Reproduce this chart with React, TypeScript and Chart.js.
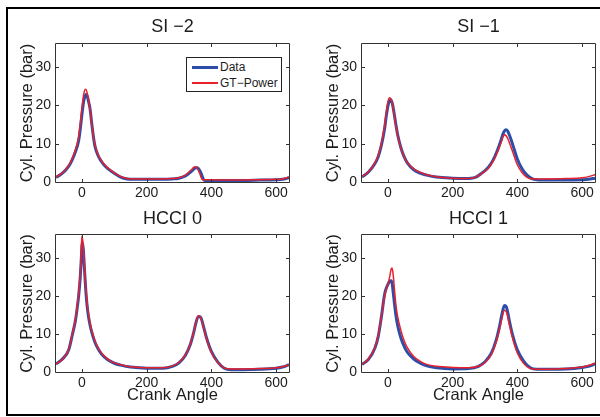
import { useEffect, useRef } from "react";
import { Chart, registerables } from "chart.js";

Chart.register(...registerables);

// Axis settings shared by all four panels
const xTicks = [0, 200, 400, 600];
const yTicks = [0, 10, 20, 30];
const xMin = -80;
const xMax = 640;
const yMin = 0;
const yMax = 36;

// SI -2
const si2Angle = [-80, -60, -40, -30, -20, -10, -5, 0, 5, 10, 13, 17, 20, 25, 30, 35, 40, 50, 60, 70, 80, 100, 120, 140, 160, 200, 240, 280, 300, 320, 330, 340, 345, 350, 355, 360, 365, 370, 375, 380, 400, 450, 500, 550, 600, 620, 640];
const si2Data = [1.2, 2.3, 4.2, 5.8, 7.9, 10.8, 13.8, 17.5, 20.8, 22.5, 22.8, 22.3, 21.2, 19.2, 15.6, 12.2, 9.5, 6.9, 5.4, 4.3, 3.5, 2.3, 1.3, 0.8, 0.7, 0.7, 0.7, 0.8, 1.0, 1.6, 2.2, 2.9, 3.3, 3.6, 3.7, 3.5, 2.9, 1.9, 0.8, 0.4, 0.4, 0.4, 0.4, 0.5, 0.6, 0.7, 1.1];
const si2Gt = [1.3, 2.4, 4.4, 6.1, 8.4, 11.8, 15.2, 19.2, 22.6, 24.2, 24.1, 23.0, 21.8, 19.0, 15.5, 12.2, 9.8, 7.1, 5.6, 4.5, 3.7, 2.4, 1.4, 0.9, 0.8, 0.8, 0.8, 0.9, 1.1, 1.8, 2.5, 3.3, 3.8, 4.0, 3.8, 3.0, 2.0, 0.9, 0.6, 0.6, 0.6, 0.5, 0.5, 0.6, 0.7, 0.8, 1.3];

// SI -1
const si1Angle = [-80, -60, -40, -30, -20, -10, -5, 0, 5, 10, 15, 20, 25, 30, 40, 50, 60, 80, 100, 120, 150, 200, 240, 270, 290, 310, 325, 340, 350, 355, 360, 365, 370, 380, 390, 400, 415, 430, 445, 460, 500, 550, 600, 620, 640];
const si1Data = [1.3, 2.6, 4.8, 6.6, 9.6, 14.0, 17.2, 19.8, 21.2, 21.4, 20.0, 17.5, 14.8, 12.4, 9.0, 6.6, 5.0, 3.2, 2.3, 1.8, 1.3, 1.0, 0.9, 1.2, 2.3, 3.8, 5.7, 8.6, 11.0, 12.4, 13.3, 13.6, 13.3, 11.2, 8.6, 6.0, 3.4, 1.8, 0.9, 0.6, 0.5, 0.5, 0.6, 0.7, 1.0];
const si1Gt = [1.4, 2.7, 5.0, 6.9, 10.1, 14.8, 18.2, 20.9, 22.0, 21.6, 19.8, 17.2, 14.5, 12.2, 8.9, 6.6, 5.1, 3.4, 2.5, 1.9, 1.4, 1.0, 0.9, 1.2, 2.2, 3.6, 5.4, 8.1, 10.4, 11.6, 12.3, 12.1, 11.4, 9.2, 6.8, 4.5, 2.4, 1.2, 0.8, 0.8, 0.8, 0.9, 1.1, 1.4, 1.9];

// HCCI 0
const hcci0Angle = [-80, -60, -40, -30, -20, -15, -10, -5, -2, 0, 2, 5, 8, 12, 16, 20, 25, 30, 40, 50, 60, 80, 100, 120, 150, 200, 250, 280, 300, 320, 335, 345, 352, 360, 367, 375, 385, 400, 420, 440, 460, 500, 550, 600, 620, 640];
const hcci0Data = [2.1, 3.4, 6.0, 9.6, 13.5, 16.5, 20.0, 25.0, 29.5, 33.0, 34.0, 31.5, 27.0, 21.5, 17.5, 14.8, 12.4, 10.6, 7.9, 6.1, 4.8, 3.2, 2.3, 1.8, 1.3, 1.0, 1.0, 1.5, 2.4, 4.4, 7.2, 10.2, 12.8, 14.6, 14.4, 12.2, 9.0, 5.4, 2.6, 1.0, 0.6, 0.6, 0.7, 1.0, 1.3, 1.9];
const hcci0Gt = [2.1, 3.3, 6.1, 9.8, 13.8, 16.9, 20.6, 26.0, 31.5, 35.7, 35.0, 32.0, 27.5, 22.3, 18.3, 15.5, 13.0, 11.1, 8.3, 6.4, 5.0, 3.4, 2.4, 1.9, 1.4, 1.1, 1.1, 1.6, 2.5, 4.5, 7.3, 10.3, 12.9, 14.8, 14.3, 12.0, 8.8, 5.2, 2.5, 1.1, 0.8, 0.8, 0.9, 1.1, 1.4, 1.9];

// HCCI 1
const hcci1Angle = [-80, -60, -40, -30, -20, -10, -5, 0, 5, 10, 13, 17, 20, 25, 30, 40, 50, 60, 80, 100, 120, 150, 200, 250, 280, 300, 320, 335, 345, 352, 360, 367, 375, 385, 400, 420, 440, 460, 500, 550, 600, 620, 640];
const hcci1Data = [2.0, 3.3, 6.3, 9.3, 14.5, 20.5, 22.0, 23.0, 23.8, 24.0, 23.3, 20.5, 18.2, 14.8, 12.3, 9.0, 6.8, 5.2, 3.4, 2.3, 1.6, 1.1, 0.8, 0.9, 1.5, 2.7, 5.0, 8.5, 12.0, 15.0, 17.5, 16.9, 13.6, 9.8, 5.8, 2.8, 1.1, 0.7, 0.7, 0.8, 1.2, 1.5, 2.1];
const hcci1Gt = [2.0, 3.4, 6.5, 9.6, 14.6, 20.0, 21.8, 23.0, 24.8, 27.0, 27.3, 25.0, 22.0, 17.5, 14.6, 11.0, 8.3, 6.4, 4.1, 2.8, 2.0, 1.5, 1.2, 1.1, 1.5, 2.5, 4.7, 8.0, 11.3, 14.0, 16.2, 15.6, 12.6, 9.0, 5.0, 2.2, 0.9, 0.7, 0.7, 0.9, 1.3, 1.7, 2.3];

const seriesNames = ["Data", "GT\u2212Power"];
const xLabel = "Crank Angle";
const yLabel = "Cyl. Pressure (bar)";

const FONT = "'Liberation Sans', Arial, Helvetica, sans-serif";
const TEXT = "#1c1c1c";
const AXIS = "#333333";
const BLUE = "#2c4ea8";
const RED = "#e8202c";

const W = 600;
const H = 417;
const Y_BOX = 50; // width reserved for y tick labels + y title
const TITLE_LH = 18 * 1.2;

type Area = { left: number; top: number; right: number; bottom: number };
type PanelCfg = {
  title: string;
  angle: number[];
  data: number[];
  gt: number[];
  area: Area;
  titleMid: number;
  showXLabel: boolean;
};

const panels: PanelCfg[] = [
  { title: "SI \u22122", angle: si2Angle, data: si2Data, gt: si2Gt, area: { left: 56, top: 44, right: 289, bottom: 182 }, titleMid: 27, showXLabel: false },
  { title: "SI \u22121", angle: si1Angle, data: si1Data, gt: si1Gt, area: { left: 362, top: 44, right: 595, bottom: 182 }, titleMid: 27, showXLabel: false },
  { title: "HCCI 0", angle: hcci0Angle, data: hcci0Data, gt: hcci0Gt, area: { left: 56, top: 235, right: 289, bottom: 372 }, titleMid: 219, showXLabel: true },
  { title: "HCCI 1", angle: hcci1Angle, data: hcci1Data, gt: hcci1Gt, area: { left: 362, top: 235, right: 595, bottom: 372 }, titleMid: 219, showXLabel: true },
];

// MATLAB-style box with inward tick marks on all four sides
const framePlugin = {
  id: "matlabFrame",
  afterDatasetsDraw(chart: any) {
    const { ctx, chartArea } = chart;
    const { left, top, right, bottom } = chartArea;
    const xs = chart.scales.x;
    const ys = chart.scales.y;
    const tl = 3;
    ctx.save();
    ctx.strokeStyle = AXIS;
    ctx.lineWidth = 1;
    ctx.beginPath();
    ctx.rect(Math.round(left) - 0.5, Math.round(top) - 0.5, Math.round(right - left) + 1, Math.round(bottom - top) + 1);
    ctx.stroke();
    ctx.beginPath();
    for (const v of xTicks) {
      const px = Math.round(xs.getPixelForValue(v)) + 0.5;
      ctx.moveTo(px, bottom);
      ctx.lineTo(px, bottom - tl);
      ctx.moveTo(px, top);
      ctx.lineTo(px, top + tl);
    }
    for (const v of yTicks) {
      if (v === yMin) continue;
      const py = Math.round(ys.getPixelForValue(v)) + 0.5;
      ctx.moveTo(left, py);
      ctx.lineTo(left + tl, py);
      ctx.moveTo(right, py);
      ctx.lineTo(right - tl, py);
    }
    ctx.stroke();
    ctx.restore();
  },
};

function buildConfig(p: PanelCfg): any {
  const xBox = p.showXLabel ? 40 : 25;
  const padTop = p.titleMid - TITLE_LH / 2;
  const tickFont = { family: FONT, size: 14 };
  return {
    type: "line",
    data: {
      datasets: [
        {
          label: seriesNames[1],
          data: p.angle.map((a, i) => ({ x: a, y: p.gt[i] })),
          borderColor: RED,
          borderWidth: 1.5,
          pointRadius: 0,
          cubicInterpolationMode: "monotone",
          clip: 0,
          order: 0,
        },
        {
          label: seriesNames[0],
          data: p.angle.map((a, i) => ({ x: a, y: p.data[i] })),
          borderColor: BLUE,
          borderWidth: 3,
          pointRadius: 0,
          cubicInterpolationMode: "monotone",
          clip: 0,
          order: 1,
        },
      ],
    },
    options: {
      responsive: false,
      animation: false,
      events: [],
      layout: {
        padding: {
          left: p.area.left - Y_BOX,
          right: W - p.area.right,
          top: padTop,
          bottom: H - p.area.bottom - xBox,
        },
      },
      plugins: {
        legend: { display: false },
        tooltip: { enabled: false },
        title: {
          display: true,
          text: p.title,
          fullSize: false,
          color: TEXT,
          font: { family: FONT, size: 18, weight: "normal", lineHeight: 1.2 },
          padding: { top: 0, bottom: p.area.top - padTop - TITLE_LH },
        },
      },
      scales: {
        x: {
          type: "linear",
          min: xMin,
          max: xMax,
          grid: { display: false, drawTicks: false },
          border: { display: false },
          afterBuildTicks: (s: any) => {
            s.ticks = xTicks.map((v) => ({ value: v }));
          },
          afterFit: (s: any) => {
            s.height = xBox;
          },
          ticks: { font: tickFont, color: TEXT, padding: 3, maxRotation: 0, autoSkip: false },
          title: {
            display: p.showXLabel,
            text: xLabel,
            color: TEXT,
            font: { family: FONT, size: 16.5, lineHeight: 1.2 },
            padding: { top: 0, bottom: 7 },
          },
        },
        y: {
          type: "linear",
          min: yMin,
          max: yMax,
          grid: { display: false, drawTicks: false },
          border: { display: false },
          afterBuildTicks: (s: any) => {
            s.ticks = yTicks.map((v) => ({ value: v }));
          },
          afterFit: (s: any) => {
            s.width = Y_BOX;
          },
          ticks: { font: tickFont, color: TEXT, padding: 5, autoSkip: false },
          title: {
            display: true,
            text: yLabel,
            color: TEXT,
            font: { family: FONT, size: 16.5, lineHeight: 1.2 },
            padding: { top: 12, bottom: 0 },
          },
        },
      },
    },
    plugins: [framePlugin],
  };
}

function Panel({ cfg }: { cfg: PanelCfg }) {
  const ref = useRef<HTMLCanvasElement | null>(null);
  useEffect(() => {
    const chart = new Chart(ref.current as HTMLCanvasElement, buildConfig(cfg));
    return () => chart.destroy();
  }, [cfg]);
  return (
    <canvas
      ref={ref}
      width={W}
      height={H}
      style={{ position: "absolute", left: 0, top: 0, width: W, height: H }}
    />
  );
}

function Legend() {
  const text: any = {
    position: "absolute",
    left: 33,
    fontFamily: FONT,
    fontSize: 12,
    lineHeight: "14px",
    color: TEXT,
    whiteSpace: "nowrap",
  };
  return (
    <div
      style={{
        position: "absolute",
        left: 186,
        top: 57,
        width: 96,
        height: 35,
        boxSizing: "border-box",
        border: "1px solid #222",
        background: "#fff",
      }}
    >
      <div style={{ position: "absolute", left: 5, top: 8, width: 26, height: 3, background: BLUE }} />
      <span style={{ ...text, top: 2 }}>{seriesNames[0]}</span>
      <div style={{ position: "absolute", left: 5, top: 24, width: 26, height: 2, background: RED }} />
      <span style={{ ...text, top: 18 }}>{seriesNames[1]}</span>
    </div>
  );
}

export default function App() {
  return (
    <div
      style={{
        position: "absolute",
        left: 0,
        top: 0,
        width: W,
        height: H,
        overflow: "hidden",
        background: "#fff",
      }}
    >
      <div
        style={{
          position: "absolute",
          left: 6,
          top: 7,
          width: W + 10,
          height: 409,
          boxSizing: "border-box",
          border: "2px solid #000",
        }}
      />
      {panels.map((p) => (
        <Panel key={p.title} cfg={p} />
      ))}
      <Legend />
    </div>
  );
}
